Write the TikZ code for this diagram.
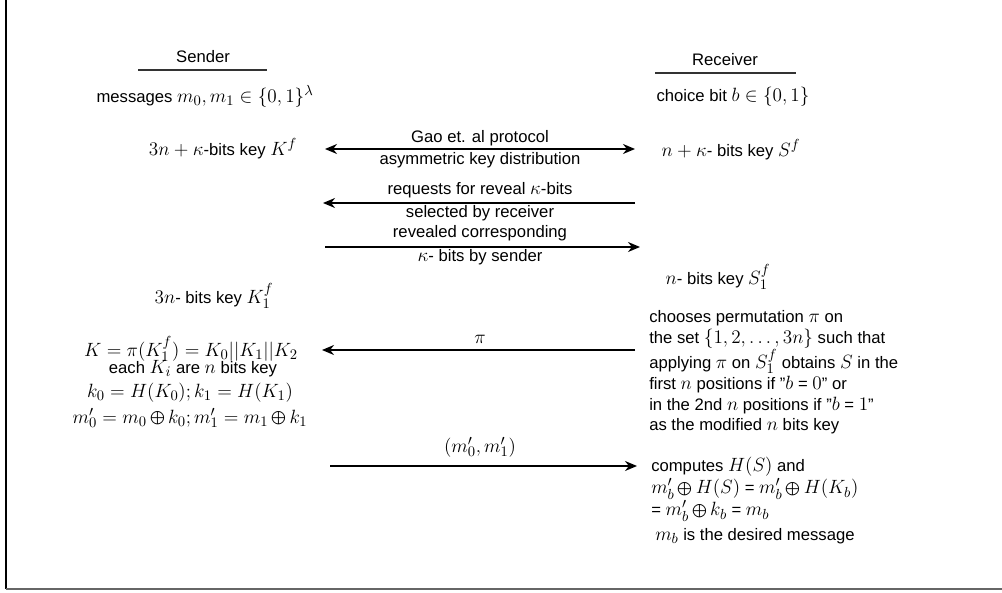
\documentclass[tikz,border=0pt]{standalone}
\usepackage{fontspec}
\setmainfont{Liberation Sans}[Scale=0.833]
\usetikzlibrary{arrows.meta}
\begin{document}
\begin{tikzpicture}[x=0.75pt,y=-0.75pt,
  every node/.style={font=\fontsize{15}{17}\selectfont, inner sep=0pt},
  msg/.style={line width=1.1pt,-{Stealth[length=9pt,width=7.5pt]}},
  dmsg/.style={line width=1.1pt,{Stealth[length=9pt,width=7.5pt]}-{Stealth[length=9pt,width=7.5pt]}},
  rule/.style={line width=1.2pt, draw=black!80},
  lbl/.style={anchor=center},
  block/.style={anchor=north west, align=left, font=\fontsize{15}{15.5}\selectfont}]
\useasboundingbox (0,0) rectangle (1002,592);
% frame
\draw[line width=1.5pt] (6,0) -- (6,589);
\draw[line width=2pt, draw=black!60] (6,589) -- (1002,589);

% headers
\node (sender) at (203,57) {Sender};
\draw[rule] (138,70) -- (267,70);
\node (receiver) at (725,60) {Receiver};
\draw[rule] (655,73) -- (796,73);

% sender column
\node (msgs) at (205,96) {messages $m_0,m_1\in\{0,1\}^\lambda$};
\node (kf) at (223,149) {$3n+\kappa$-bits key $K^f$};
\node (k1f) at (214,296) {$3n$- bits key $K_1^f$};
\node (kperm) at (191,349) {$K=\pi(K_1^f)=K_0||K_1||K_2$};
\node (ki) at (193,369) {each $K_i$ are $n$ bits key};
\node (hk) at (190,393) {$k_0=H(K_0);k_1=H(K_1)$};
\node (mp) at (190,418) {$m'_0=m_0\bigoplus k_0;m'_1=m_1\bigoplus k_1$};

% receiver column
\node (choice) at (733,97) {choice bit $b\in\{0,1\}$};
\node (sf) at (731,150) {$n+\kappa$- bits key $S^f$};
\node (s1f) at (718,277) {$n$- bits key $S_1^f$};
\node[block] (perm) at (649,310) {chooses permutation $\pi$ on\\
the set $\{1,2,\ldots,3n\}$ such that\\
applying $\pi$ on $S_1^f$ obtains $S$ in the\\
first $n$ positions if "$b$ = $0$" or\\
in the 2nd $n$ positions if "$b$ = $1$"\\
as the modified $n$ bits key};
\node[anchor=west] (comp) at (651,467) {computes $H(S)$ and};
\node[anchor=west] (xor1) at (651,489) {$m'_b\bigoplus H(S)$ = $m'_b\bigoplus H(K_b)$};
\node[anchor=west] (xor2) at (651,511) {= $m'_b\bigoplus k_b$ = $m_b$};
\node[anchor=west] (desired) at (655,536) {$m_b$ is the desired message};

% connector end points
\coordinate (sA) at (325,149); \coordinate (rA) at (635,149);
\coordinate (sB) at (323,203); \coordinate (rB) at (635,203);
\coordinate (sC) at (325,247); \coordinate (rC) at (640,247);
\coordinate (sD) at (322,350); \coordinate (rD) at (635,350);
\coordinate (sE) at (330,466); \coordinate (rE) at (637,466);

\draw[dmsg] (sA) -- (rA);
\node[lbl] at (480,138) {Gao et. al protocol};
\node[lbl] at (480,160) {asymmetric key distribution};

\draw[msg] (rB) -- (sB);
\node[lbl] at (480,190) {requests for reveal $\kappa$-bits};
\node[lbl] at (480,213) {selected by receiver};

\draw[msg] (sC) -- (rC);
\node[lbl] at (480,233) {revealed corresponding};
\node[lbl] at (480,257) {$\kappa$- bits by sender};

\draw[msg] (rD) -- (sD);
\node[lbl] at (480,339) {$\pi$};

\draw[msg] (sE) -- (rE);
\node[lbl] at (480,447) {$(m'_0,m'_1)$};
\end{tikzpicture}
\end{document}
